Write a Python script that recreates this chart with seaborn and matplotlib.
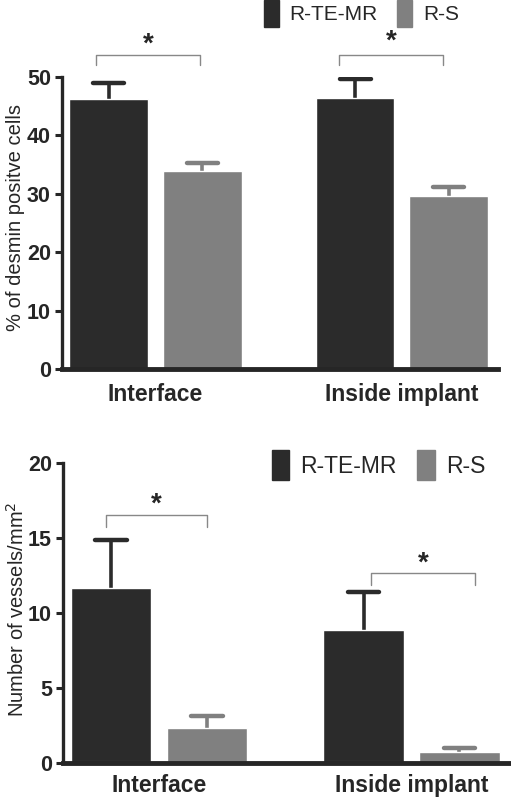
import numpy as np
import pandas as pd
import matplotlib
matplotlib.use("Agg")
import matplotlib.pyplot as plt
import matplotlib.patches as mpatches
import seaborn as sns

groups = ["Interface", "Inside implant"]
conditions = ["R-TE-MR", "R-S"]
colors = ["#2b2b2b", "#808080"]

# top panel: % of desmin positive cells
desmin_mean = {"R-TE-MR": [46.2, 46.4], "R-S": [33.9, 29.7]}
desmin_err = {"R-TE-MR": [2.8, 3.2], "R-S": [1.4, 1.5]}
desmin_yticks = [0, 10, 20, 30, 40, 50]

# bottom panel: vessels per mm2
vessel_mean = {"R-TE-MR": [11.7, 8.87], "R-S": [2.3, 0.74]}
vessel_err = {"R-TE-MR": [3.2, 2.55], "R-S": [0.84, 0.27]}
vessel_yticks = [0, 5, 10, 15, 20]

sns.set_style("white")
plt.rcParams['font.family'] = ['Liberation Sans', 'DejaVu Sans']

fig = plt.figure(figsize=(5.11, 8), dpi=100)
ax1 = fig.add_axes([0.1213, 0.5388, 0.8533, 0.365])
ax2 = fig.add_axes([0.1233, 0.0466, 0.8747, 0.3743])


def make_df(means):
    rows = []
    for c in conditions:
        for g, v in zip(groups, means[c]):
            rows.append({"group": g, "condition": c, "value": v})
    return pd.DataFrame(rows)


def draw_panel(ax, means, errs, yticks, ymax, ylabel, label_xy, brackets,
               legend_pos, legend_fs, xpad):
    df = make_df(means)
    sns.barplot(data=df, x="group", y="value", hue="condition", order=groups,
                hue_order=conditions, palette=colors, width=0.76, gap=0.16,
                errorbar=None, saturation=1, ax=ax, legend=False)
    # upper-only error bars, placed from the bar patches
    bars = list(ax.patches)
    for i, c in enumerate(conditions):
        for j in range(len(groups)):
            p = bars[i * len(groups) + j]
            xc = p.get_x() + p.get_width() / 2
            top = means[c][j] + errs[c][j]
            ax.vlines(xc, means[c][j], top, color=colors[i], lw=2.6, zorder=0.5)
            ax.hlines(top, xc - 0.063, xc + 0.063, color=colors[i], lw=3.2,
                      capstyle="round", zorder=0.5)
    # significance brackets
    for (x0, x1, y, h, ys) in brackets:
        ax.plot([x0, x0, x1, x1], [y - h, y, y, y - h], color="#888888", lw=1.0,
                clip_on=False)
        ax.text((x0 + x1) / 2, ys, "*", ha="center", va="center", fontsize=20,
                fontweight="bold", clip_on=False)
    ax.set_xlim(-0.38, 1.39)
    ax.set_ylim(0, ymax)
    ax.set_yticks(yticks)
    ax.set_yticklabels([str(t) for t in yticks], fontsize=15.5, fontweight="bold")
    ax.set_xticks([0, 1])
    ax.set_xticklabels(groups, fontsize=16.5, fontweight="bold")
    ax.tick_params(axis="x", length=0, pad=xpad)
    ax.tick_params(axis="y", length=5, width=2.2, direction="out", left=True, pad=3)
    ax.set_xlabel("")
    ax.set_ylabel(ylabel, fontsize=14.5)
    ax.yaxis.set_label_coords(*label_xy)
    sns.despine(ax=ax, top=True, right=True)
    ax.spines["left"].set_linewidth(2.4)
    ax.spines["bottom"].set_linewidth(3.5)
    handles = [mpatches.Patch(facecolor=col, edgecolor=col) for col in colors]
    ax.legend(handles, conditions, loc="upper left", bbox_to_anchor=legend_pos,
              bbox_transform=fig.transFigure, ncol=2, frameon=False,
              fontsize=legend_fs, handlelength=0.75, handleheight=1.6,
              handletextpad=0.5, columnspacing=0.9, borderpad=0, borderaxespad=0)


draw_panel(ax1, desmin_mean, desmin_err, desmin_yticks, 50,
           "% of desmin positve cells", (-0.084, 0.52),
           [(-0.24, 0.18, 53.8, 1.7, 55.5), (0.745, 1.165, 53.8, 1.7, 56.0)],
           (0.516, 1.0), 15, 10)
draw_panel(ax2, vessel_mean, vessel_err, vessel_yticks, 20,
           "Number of vessels/mm$^2$", (-0.079, 0.513),
           [(-0.21, 0.19, 16.55, 0.78, 17.25), (0.84, 1.25, 12.65, 0.78, 13.3)],
           (0.532, 0.437), 16.5, 8)

fig.savefig("out.png", dpi=100)
